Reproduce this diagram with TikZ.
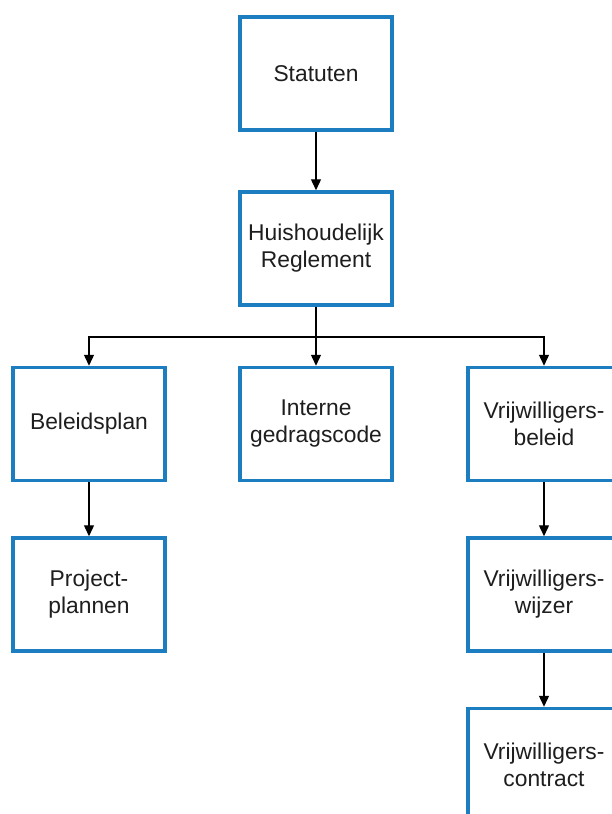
\documentclass[tikz,border=0pt]{standalone}
\usepackage{fontspec}
\setmainfont{Liberation Sans}
\usetikzlibrary{arrows.meta}
\definecolor{boxblue}{RGB}{28,126,192}
\definecolor{txt}{RGB}{30,30,30}
\tikzset{
  box/.style={draw=boxblue, line width=3.5pt, fill=white, rectangle,
    minimum width=152pt, minimum height=113pt, inner sep=0pt,
    align=center, text=txt, font=\fontsize{22.8pt}{27pt}\selectfont},
  arr/.style={draw=black, line width=1.4pt,
    -{Triangle[length=11pt,width=10pt]}}
}
\begin{document}
\begin{tikzpicture}[x=1pt,y=-1pt]
\useasboundingbox (0,0) rectangle (612,814);
\clip (0,0) rectangle (612,814);
\node[box] (stat) at (316,73.5) {Statuten};
\node[box] (hh) at (316,248.5) {Huishoudelijk\\Reglement};
\node[box] (bel) at (89,424) {Beleidsplan};
\node[box] (int) at (316,424) {Interne\\gedragscode};
\node[box] (vb) at (544,424) {Vrijwilligers-\\beleid};
\node[box] (proj) at (89,594.5) {Project-\\plannen};
\node[box] (vw) at (544,594.5) {Vrijwilligers-\\wijzer};
\node[box] (vc) at (544,765) {Vrijwilligers-\\contract};
\coordinate (split) at (316,337);
\draw[arr] (stat) -- (hh);
\draw[arr] (hh) -- (int);
\draw[arr] (hh.south) -- (split) -| (bel.north);
\draw[arr] (split) -| (vb.north);
\draw[arr] (bel) -- (proj);
\draw[arr] (vb) -- (vw);
\draw[arr] (vw) -- (vc);
\end{tikzpicture}
\end{document}
